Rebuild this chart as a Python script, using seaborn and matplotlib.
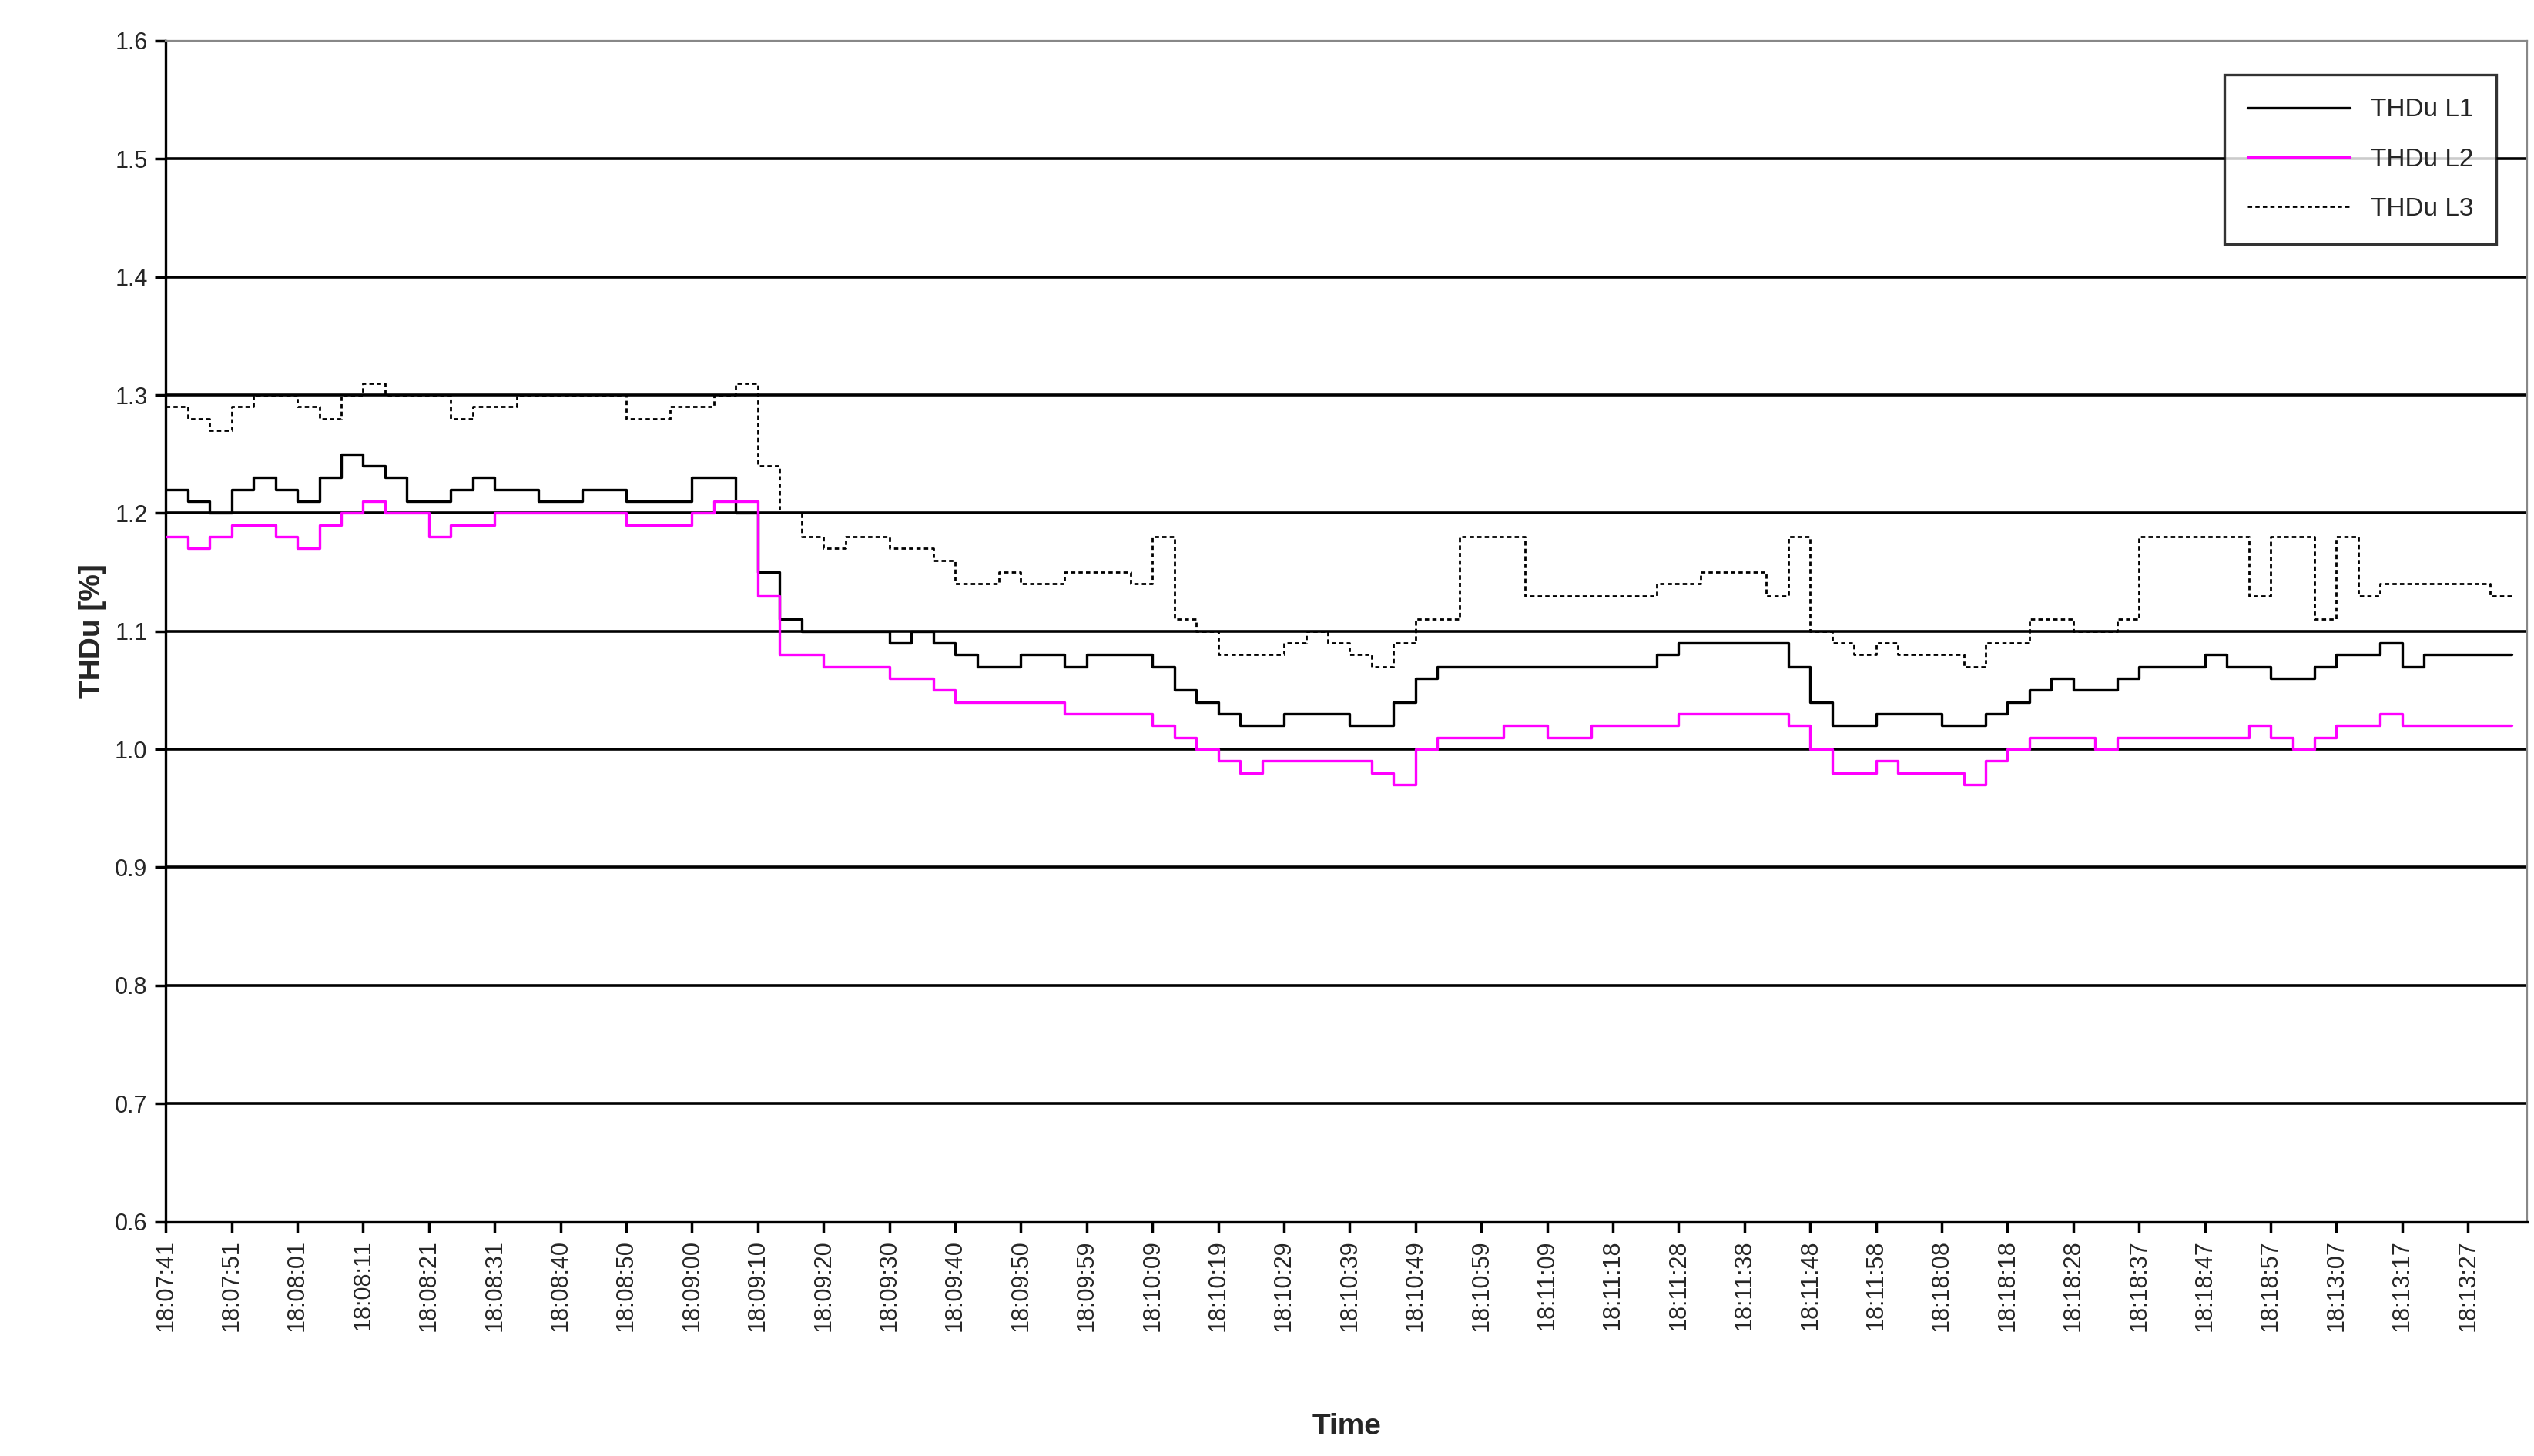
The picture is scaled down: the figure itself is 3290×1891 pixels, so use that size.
import matplotlib
matplotlib.use("Agg")
import matplotlib.pyplot as plt
import seaborn as sns
import numpy as np
import pandas as pd

sns.set_theme(style="white")
plt.rcParams['font.family'] = ['Liberation Sans', 'DejaVu Sans']

tick_labels = ["18:07:41","18:07:51","18:08:01","18:08:11","18:08:21","18:08:31","18:08:40","18:08:50",
               "18:09:00","18:09:10","18:09:20","18:09:30","18:09:40","18:09:50","18:09:59","18:10:09",
               "18:10:19","18:10:29","18:10:39","18:10:49","18:10:59","18:11:09","18:11:18","18:11:28",
               "18:11:38","18:11:48","18:11:58","18:18:08","18:18:18","18:18:28","18:18:37","18:18:47",
               "18:18:57","18:13:07","18:13:17","18:13:27"]

thdu_l1 = [1.22,1.21,1.20, 1.22,1.23,1.22, 1.21,1.23,1.25, 1.24,1.23,1.21, 1.21,1.22,1.23, 1.22,1.22,1.21,
           1.21,1.22,1.22, 1.21,1.21,1.21, 1.23,1.23,1.20, 1.15,1.11,1.10, 1.10,1.10,1.10, 1.09,1.10,1.09,
           1.08,1.07,1.07, 1.08,1.08,1.07, 1.08,1.08,1.08, 1.07,1.05,1.04, 1.03,1.02,1.02, 1.03,1.03,1.03,
           1.02,1.02,1.04, 1.06,1.07,1.07, 1.07,1.07,1.07, 1.07,1.07,1.07, 1.07,1.07,1.08, 1.09,1.09,1.09,
           1.09,1.09,1.07, 1.04,1.02,1.02, 1.03,1.03,1.03, 1.02,1.02,1.03, 1.04,1.05,1.06, 1.05,1.05,1.06,
           1.07,1.07,1.07, 1.08,1.07,1.07, 1.06,1.06,1.07, 1.08,1.08,1.09, 1.07,1.08,1.08, 1.08,1.08,1.08]
thdu_l2 = [1.18,1.17,1.18, 1.19,1.19,1.18, 1.17,1.19,1.20, 1.21,1.20,1.20, 1.18,1.19,1.19, 1.20,1.20,1.20,
           1.20,1.20,1.20, 1.19,1.19,1.19, 1.20,1.21,1.21, 1.13,1.08,1.08, 1.07,1.07,1.07, 1.06,1.06,1.05,
           1.04,1.04,1.04, 1.04,1.04,1.03, 1.03,1.03,1.03, 1.02,1.01,1.00, 0.99,0.98,0.99, 0.99,0.99,0.99,
           0.99,0.98,0.97, 1.00,1.01,1.01, 1.01,1.02,1.02, 1.01,1.01,1.02, 1.02,1.02,1.02, 1.03,1.03,1.03,
           1.03,1.03,1.02, 1.00,0.98,0.98, 0.99,0.98,0.98, 0.98,0.97,0.99, 1.00,1.01,1.01, 1.01,1.00,1.01,
           1.01,1.01,1.01, 1.01,1.01,1.02, 1.01,1.00,1.01, 1.02,1.02,1.03, 1.02,1.02,1.02, 1.02,1.02,1.02]
thdu_l3 = [1.29,1.28,1.27, 1.29,1.30,1.30, 1.29,1.28,1.30, 1.31,1.30,1.30, 1.30,1.28,1.29, 1.29,1.30,1.30,
           1.30,1.30,1.30, 1.28,1.28,1.29, 1.29,1.30,1.31, 1.24,1.20,1.18, 1.17,1.18,1.18, 1.17,1.17,1.16,
           1.14,1.14,1.15, 1.14,1.14,1.15, 1.15,1.15,1.14, 1.18,1.11,1.10, 1.08,1.08,1.08, 1.09,1.10,1.09,
           1.08,1.07,1.09, 1.11,1.11,1.18, 1.18,1.18,1.13, 1.13,1.13,1.13, 1.13,1.13,1.14, 1.14,1.15,1.15,
           1.15,1.13,1.18, 1.10,1.09,1.08, 1.09,1.08,1.08, 1.08,1.07,1.09, 1.09,1.11,1.11, 1.10,1.10,1.11,
           1.18,1.18,1.18, 1.18,1.18,1.13, 1.18,1.18,1.11, 1.18,1.13,1.14, 1.14,1.14,1.14, 1.14,1.13,1.13]

idx = np.arange(len(thdu_l1))
df = pd.DataFrame({"i": idx, "THDu L1": thdu_l1, "THDu L2": thdu_l2, "THDu L3": thdu_l3})

fig = plt.figure(figsize=(16.455, 9.455), dpi=200)
ax = fig.add_axes([0.0654, 0.161, 0.9316, 0.811])
ax.set_ylim(0.6, 1.6)
ax.set_xlim(0, len(idx) - 0.3)
ax.set_yticks(np.arange(0.6, 1.61, 0.1))
ax.set_yticklabels([f"{v:.1f}" for v in np.arange(0.6, 1.61, 0.1)], fontsize=11)
for y in np.arange(0.7, 1.61, 0.1):
    ax.axhline(y, color="black", lw=1.3, zorder=1)

sns.lineplot(data=df, x="i", y="THDu L1", ax=ax, color="black", lw=1.2, drawstyle="steps-post", label="THDu L1", zorder=3)
sns.lineplot(data=df, x="i", y="THDu L2", ax=ax, color="#ff00ff", lw=1.2, drawstyle="steps-post", label="THDu L2", zorder=3)
sns.lineplot(data=df, x="i", y="THDu L3", ax=ax, color="black", lw=1.0, ls=(0, (2, 1.5)), drawstyle="steps-post", label="THDu L3", zorder=3)

ax.set_xticks(np.arange(0, 3 * len(tick_labels), 3))
ax.set_xticklabels(tick_labels, rotation=90, fontsize=11)
ax.tick_params(axis="both", which="both", length=5, color="black", direction="out", bottom=True, left=True)
ax.set_xlabel("Time", fontsize=14, fontweight="bold", labelpad=38)
ax.set_ylabel("THDu [%]", fontsize=14, fontweight="bold")
for s in ["left", "bottom"]:
    ax.spines[s].set_color("black"); ax.spines[s].set_linewidth(1.2)
for s in ["top", "right"]:
    ax.spines[s].set_color("#888888"); ax.spines[s].set_linewidth(0.8)

leg = ax.legend(loc="upper right", bbox_to_anchor=(0.9925, 0.982), fontsize=12, frameon=True,
                fancybox=False, edgecolor="black", borderpad=0.9, handlelength=4, labelspacing=1.0)
leg.get_frame().set_linewidth(1.2)

fig.savefig("out.png", dpi=200, facecolor="white")
